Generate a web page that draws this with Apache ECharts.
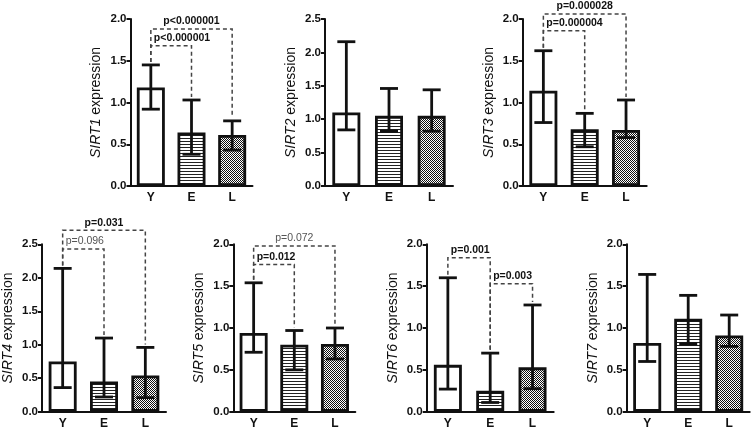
<!DOCTYPE html>
<html>
<head>
<meta charset="utf-8">
<script src="https://cdn.jsdelivr.net/npm/echarts@6/dist/echarts.min.js"></script>
<style>html,body{margin:0;padding:0;background:#fff}#c{width:752px;height:431px}</style>
</head>
<body>
<div id="c"></div>
<script>
// ---- data ----
const categories = ['Y', 'E', 'L'];
const genes = ['SIRT1', 'SIRT2', 'SIRT3', 'SIRT4', 'SIRT5', 'SIRT6', 'SIRT7'];
const yMax = [2.0, 2.5, 2.0, 2.5, 2.0, 2.0, 2.0];
const yTickStep = 0.5;

const sirt1Mean = [1.18, 0.64, 0.61];
const sirt1Low  = [0.92, 0.38, 0.43];
const sirt1High = [1.45, 1.03, 0.78];

const sirt2Mean = [1.10, 1.05, 1.05];
const sirt2Low  = [0.84, 0.82, 0.82];
const sirt2High = [2.16, 1.46, 1.44];

const sirt3Mean = [1.14, 0.68, 0.67];
const sirt3Low  = [0.76, 0.47, 0.58];
const sirt3High = [1.62, 0.87, 1.03];

const sirt4Mean = [0.75, 0.45, 0.54];
const sirt4Low  = [0.36, 0.22, 0.21];
const sirt4High = [2.14, 1.10, 0.96];

const sirt5Mean = [0.94, 0.80, 0.81];
const sirt5Low  = [0.71, 0.50, 0.63];
const sirt5High = [1.54, 0.97, 1.00];

const sirt6Mean = [0.56, 0.25, 0.53];
const sirt6Low  = [0.27, 0.11, 0.275];
const sirt6High = [1.60, 0.70, 1.275];

const sirt7Mean = [0.82, 1.11, 0.91];
const sirt7Low  = [0.60, 0.81, 0.78];
const sirt7High = [1.64, 1.39, 1.155];

// significance brackets: [fromIndex, toIndex, bracketHeight, label]
const sirt1Sig = [[0, 1, 1.68, 'p<0.000001'], [0, 2, 1.88, 'p<0.000001']];
const sirt2Sig = [];
const sirt3Sig = [[0, 1, 1.86, 'p=0.000004'], [0, 2, 2.06, 'p=0.000028']];
const sirt4Sig = [[0, 1, 2.43, 'p=0.096'], [0, 2, 2.71, 'p=0.031']];
const sirt5Sig = [[0, 1, 1.76, 'p=0.012'], [0, 2, 1.98, 'p=0.072']];
const sirt6Sig = [[0, 1, 1.84, 'p=0.001'], [1, 2, 1.53, 'p=0.003']];
const sirt7Sig = [];

const means = [sirt1Mean, sirt2Mean, sirt3Mean, sirt4Mean, sirt5Mean, sirt6Mean, sirt7Mean];
const lows  = [sirt1Low, sirt2Low, sirt3Low, sirt4Low, sirt5Low, sirt6Low, sirt7Low];
const highs = [sirt1High, sirt2High, sirt3High, sirt4High, sirt5High, sirt6High, sirt7High];
const sigs  = [sirt1Sig, sirt2Sig, sirt3Sig, sirt4Sig, sirt5Sig, sirt6Sig, sirt7Sig];

// ---- layout / style ----
const FONT = "'Liberation Sans', Arial, sans-serif";
const grids = [
  {left: 130.5, top: 19, width: 122, height: 167},
  {left: 325, top: 19, width: 128, height: 167},
  {left: 522.7, top: 19, width: 124, height: 167},
  {left: 40, top: 244.3, width: 126, height: 167.4},
  {left: 233.3, top: 244.3, width: 122, height: 167.4},
  {left: 426.7, top: 244.3, width: 127, height: 167.4},
  {left: 626.7, top: 244.3, width: 123, height: 167.4}
];

function makePattern(kind) {
  const cv = document.createElement('canvas');
  if (kind === 'lines') {
    cv.width = 4; cv.height = 3;
    const g = cv.getContext('2d');
    g.fillStyle = '#fff'; g.fillRect(0, 0, 4, 3);
    g.fillStyle = '#222'; g.fillRect(0, 0, 4, 1);
  } else {
    cv.width = 2; cv.height = 2;
    const g = cv.getContext('2d');
    g.fillStyle = '#fff'; g.fillRect(0, 0, 2, 2);
    g.fillStyle = '#111'; g.fillRect(0, 0, 1, 1); g.fillRect(1, 1, 1, 1);
  }
  return {image: cv, repeat: 'repeat'};
}
const fills = ['#ffffff', makePattern('lines'), makePattern('check')];

const option = {
  animation: false,
  backgroundColor: '#fff',
  grid: [], xAxis: [], yAxis: [], series: []
};

genes.forEach((gene, k) => {
  option.grid.push(Object.assign({containLabel: false}, grids[k]));
  option.xAxis.push({
    type: 'category', gridIndex: k, data: categories,
    axisLine: {lineStyle: {color: '#111', width: 2}},
    axisTick: {alignWithLabel: true, length: 4, lineStyle: {color: '#111', width: 2}},
    axisLabel: {fontFamily: FONT, fontWeight: 'bold', fontSize: 12, color: '#111', margin: 6}
  });
  option.yAxis.push({
    type: 'value', gridIndex: k, min: 0, max: yMax[k], interval: yTickStep,
    name: '{i|' + gene + '} expression',
    nameLocation: 'middle', nameGap: 27,
    nameTextStyle: {fontFamily: FONT, fontSize: 14, color: '#111',
      rich: {i: {fontFamily: FONT, fontSize: 14, fontStyle: 'italic', color: '#111'}}},
    axisLine: {show: true, lineStyle: {color: '#111', width: 2}},
    axisTick: {show: true, length: 4, lineStyle: {color: '#111', width: 2}},
    splitLine: {show: false},
    axisLabel: {fontFamily: FONT, fontWeight: 'bold', fontSize: 11.5, color: '#111', margin: 4,
      formatter: v => v.toFixed(1)}
  });
  option.series.push({
    type: 'bar', xAxisIndex: k, yAxisIndex: k, barWidth: 28, z: 2,
    data: means[k].map((v, i) => ({value: v, itemStyle: {color: fills[i], borderColor: '#111', borderWidth: 2.8}}))
  });
  const hi = highs[k];
  option.series.push({
    type: 'custom', xAxisIndex: k, yAxisIndex: k, z: 3,
    data: categories.map((c, i) => [i, lows[k][i], hi[i]]),
    encode: {x: 0, y: [1, 2]},
    renderItem: function (params, api) {
      const i = api.value(0);
      const top = api.coord([i, api.value(2)]);
      const bot = api.coord([i, api.value(1)]);
      const st = {stroke: '#111', lineWidth: 2.8};
      const hw = 9;
      return {type: 'group', children: [
        {type: 'line', shape: {x1: top[0], y1: top[1], x2: bot[0], y2: bot[1]}, style: st},
        {type: 'line', shape: {x1: top[0] - hw, y1: top[1], x2: top[0] + hw, y2: top[1]}, style: st},
        {type: 'line', shape: {x1: bot[0] - hw, y1: bot[1], x2: bot[0] + hw, y2: bot[1]}, style: st}
      ]};
    }
  });
  if (sigs[k].length) {
    option.series.push({
      type: 'custom', xAxisIndex: k, yAxisIndex: k, z: 4, clip: false,
      data: sigs[k].map(s => [s[0], s[1], s[2]]),
      renderItem: function (params, api) {
        const a = api.value(0), b = api.value(1), h = api.value(2);
        const label = sigs[k][params.dataIndex][3];
        const pNum = parseFloat(label.replace(/^p[<=]/, ''));
        const sig = pNum < 0.05;
        const pa = api.coord([a, h]);
        const pb = api.coord([b, h]);
        const la = api.coord([a, hi[a]]);
        const lb = api.coord([b, hi[b]]);
        const children = [{
          type: 'polyline',
          shape: {points: [[pa[0], la[1] - 3], [pa[0], pa[1]], [pb[0], pb[1]], [pb[0], lb[1] - 3]]},
          style: {stroke: '#444', lineWidth: 1.5, lineDash: [4, 3], fill: null}
        }];
        const centered = (b - a) >= 2;
        children.push({
          type: 'text',
          x: centered ? (pa[0] + pb[0]) / 2 : pa[0] + 3,
          y: pa[1] - 2,
          style: {
            text: label, fontFamily: FONT, fontSize: 10.5,
            fontWeight: sig ? 'bold' : 'normal',
            fill: sig ? '#111' : '#555',
            align: centered ? 'center' : 'left', verticalAlign: 'bottom'
          }
        });
        return {type: 'group', children: children};
      }
    });
  }
});

const chart = echarts.init(document.getElementById('c'), null, {renderer: 'canvas'});
chart.setOption(option);
</script>
</body>
</html>
